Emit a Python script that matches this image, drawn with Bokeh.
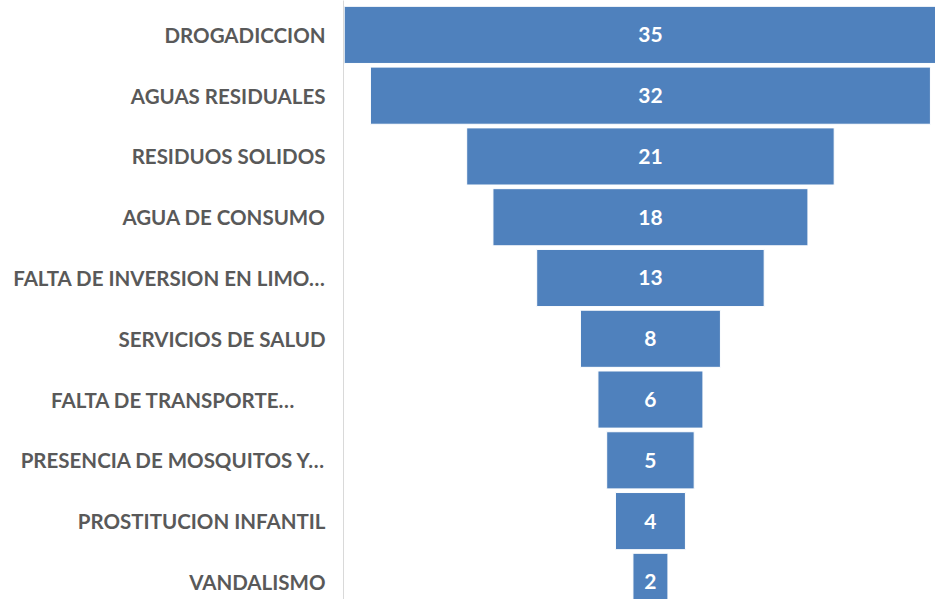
from bokeh.plotting import figure
from bokeh.models import ColumnDataSource, Range1d, LabelSet, FixedTicker
from bokeh.core.properties import value
from bokeh.embed import file_html
from bokeh.resources import INLINE

categories = [
    "DROGADICCION",
    "AGUAS RESIDUALES",
    "RESIDUOS SOLIDOS",
    "AGUA DE CONSUMO",
    "FALTA DE INVERSION EN LIMO…",
    "SERVICIOS DE SALUD",
    "FALTA DE TRANSPORTE…\u00a0\u00a0\u00a0\u00a0\u00a0\u00a0",
    "PRESENCIA DE MOSQUITOS Y…",
    "PROSTITUCION INFANTIL",
    "VANDALISMO",
]
values = [35, 32, 21, 18, 13, 8, 6, 5, 4, 2]

pos = list(range(len(categories)))

src = ColumnDataSource(dict(
    pos=pos,
    val=values,
    left=[-v / 2 for v in values],
    right=[v / 2 for v in values],
    mid=[0 for v in values],
    lab=[str(v) for v in values],
))

p = figure(
    width=935, height=599,
    y_range=Range1d(9.29, -0.566),
    x_range=Range1d(-17.54, 16.29),
    x_axis_location=None,
    output_backend="svg", toolbar_location=None,
    min_border_left=343, min_border_right=0,
    min_border_top=0, min_border_bottom=0,
)

p.hbar(y="pos", left="left", right="right", height=0.94, source=src,
       fill_color="#4F81BD", line_color="white", line_width=1)

labels = LabelSet(x="mid", y="pos", text="lab", source=src,
                  text_align="center", text_baseline="middle",
                  text_color="white", text_font=value("Lato"),
                  text_font_style="bold", text_font_size="21px")
p.add_layout(labels)

p.grid.visible = False
p.outline_line_color = None
p.yaxis.ticker = FixedTicker(ticks=pos)
p.yaxis.major_label_overrides = {i: c for i, c in zip(pos, categories)}
p.yaxis.axis_line_color = "#d9d9d9"
p.yaxis.axis_line_width = 1
p.yaxis.major_tick_line_color = None
p.yaxis.minor_tick_line_color = None
p.yaxis.major_label_text_font = "Lato"
p.yaxis.major_label_text_font_style = "bold"
p.yaxis.major_label_text_font_size = "20.5px"
p.yaxis.major_label_text_color = "#595959"
p.yaxis.major_label_standoff = 12

open("out.html", "w").write(file_html(p, INLINE))
